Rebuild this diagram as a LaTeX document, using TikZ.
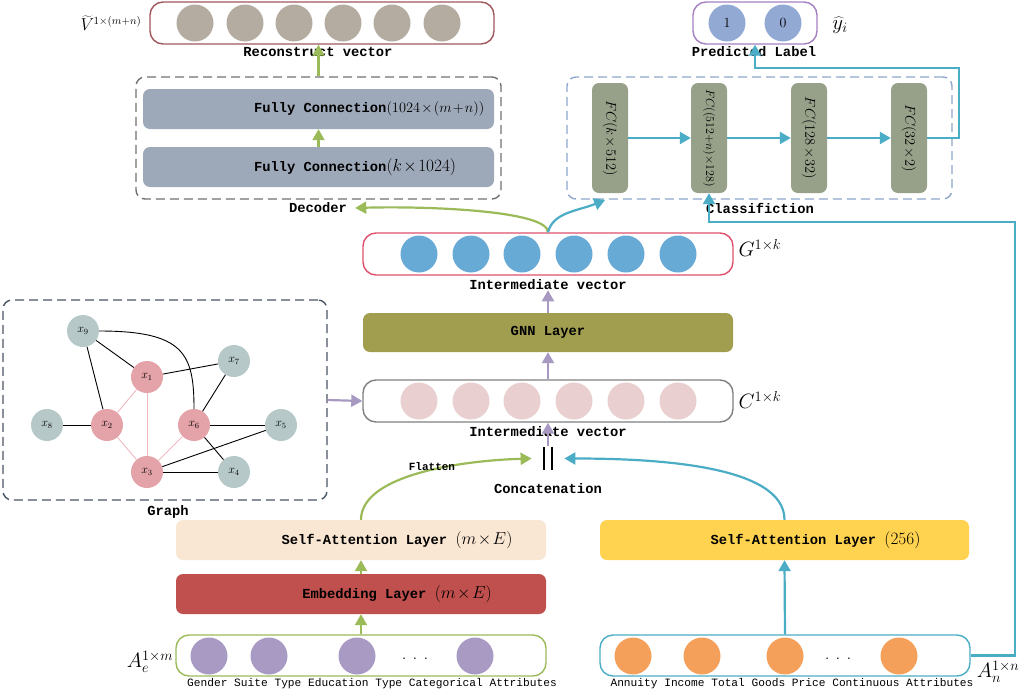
\documentclass[tikz,border=0pt]{standalone}
\usepackage{fontspec}
\setmonofont{Liberation Mono}
\usetikzlibrary{positioning,calc,arrows.meta}

\definecolor{recred}{HTML}{A0575C}
\definecolor{recfill}{HTML}{B5ACA1}
\definecolor{fcblue}{HTML}{9DA8B9}
\definecolor{fcgreen}{HTML}{97A189}
\definecolor{predline}{HTML}{A580C0}
\definecolor{predfill}{HTML}{92A9D3}
\definecolor{gline}{HTML}{E0506E}
\definecolor{gfill}{HTML}{68AAD6}
\definecolor{cfill}{HTML}{E9CFD0}
\definecolor{gnnfill}{HTML}{A29E50}
\definecolor{embfill}{HTML}{C0504D}
\definecolor{salfill}{HTML}{FAE7D3}
\definecolor{sarfill}{HTML}{FFD350}
\definecolor{aefill}{HTML}{A99AC3}
\definecolor{anfill}{HTML}{F5A05A}
\definecolor{catgreen}{HTML}{9BBB59}
\definecolor{numblue}{HTML}{4BACC6}
\definecolor{arrpurple}{HTML}{A899C2}
\definecolor{nodegray}{HTML}{B6C8C8}
\definecolor{nodered}{HTML}{E3A3A8}
\definecolor{edgepink}{HTML}{F0B8C0}
\definecolor{decdash}{HTML}{707070}
\definecolor{clsdash}{HTML}{8FA6CC}
\definecolor{graphdash}{HTML}{4A5562}

\newcommand{\mth}[2][14]{{\fontsize{#1}{#1}\selectfont\medmuskip=1.5mu$#2$}}

\tikzset{
  vecbox/.style={draw, line width=1.4pt, rounded corners=13pt, minimum width=370pt, minimum height=42pt},
  layerbox/.style={rounded corners=7pt, minimum width=370pt, minimum height=40pt},
  dashbox/.style={draw, line width=1.4pt, dash pattern=on 9pt off 5pt, rounded corners=9pt},
  lab/.style={font=\ttfamily\bfseries\fontsize{13.8}{14}\selectfont, inner sep=0pt},
  smalllab/.style={font=\ttfamily\fontsize{11.2}{12}\selectfont, inner sep=0pt},
  bigmath/.style={font=\fontsize{20}{20}\selectfont, inner sep=0pt},
  unit/.style={circle, minimum size=37pt, inner sep=0pt},
  fcbar/.style={fill=fcgreen, rounded corners=7pt, minimum width=36pt, minimum height=110pt, inner sep=0pt},
  gnode/.style={circle, minimum size=32pt, inner sep=0pt, font=\fontsize{12}{12}\selectfont},
  gedge/.style={line width=0.9pt},
  arr/.style={line width=2.2pt, -{Triangle[length=11pt,width=12pt]}},
}

\begin{document}
\begin{tikzpicture}[x=1pt,y=-1pt]
  \useasboundingbox (0,0) rectangle (1021,697);

  % decoder
  \node[vecbox, draw=recred, minimum width=344pt] (rec) at (322,23) {};
  \foreach \x [count=\i] in {195,245,294,343,392,442}
    \node[unit, fill=recfill] (rec-\i) at (\x,23) {};
  \node[lab] (reclab) at (318,52) {Reconstruct vector};
  \node[inner sep=0pt] (vt) at (111,23) {\mth[16]{\widetilde{V}^{\mkern-1mu 1\times(m+n)}}};

  \node[dashbox, draw=decdash, minimum width=365pt, minimum height=122pt] (dec) at (318.5,138) {};
  \node[layerbox, fill=fcblue, minimum width=351pt] (fc1) at (318.5,109) {};
  \node[layerbox, fill=fcblue, minimum width=351pt] (fc2) at (318.5,167) {};
  \node[lab, anchor=west] (fc1txt) at ($(fc1.west)+(111,0)$) {Fully Connection\mth[15]{\bigl(1024\times(m+n)\bigr)}};
  \node[lab, anchor=west] (fc2txt) at ($(fc2.west)+(111,0)$) {Fully Connection\mth[16]{(k\times1024)}};
  \node[lab, inner xsep=8pt] (declab) at (318,208) {Decoder};

  % classification
  \node[vecbox, draw=predline, minimum width=124pt] (pred) at (755,23) {};
  \node[unit, fill=predfill, font=\fontsize{14}{14}\selectfont] (p-1) at (727,23) {1};
  \node[unit, fill=predfill, font=\fontsize{14}{14}\selectfont] (p-0) at (783,23) {0};
  \node[lab] (predlab) at (754,52) {Predicted Label};
  \node[bigmath] (yhat) at (840,25) {$\widehat{y}_i$};

  \node[dashbox, draw=clsdash, minimum width=385pt, minimum height=122pt] (cls) at (759.5,138) {};
  \node[fcbar] (c1) at (610,138) {\rotatebox{-90}{\mth[15]{FC(k\times512)}}};
  \node[fcbar] (c2) at (709,138) {\rotatebox{-90}{\mth[11.5]{FC((512{+}n){\times}128)}}};
  \node[fcbar] (c3) at (809,138) {\rotatebox{-90}{\mth[15]{FC(128\times32)}}};
  \node[fcbar] (c4) at (909,138) {\rotatebox{-90}{\mth[15]{FC(32\times2)}}};
  \node[lab] (clslab) at (760,208) {Classifiction};

  % intermediate vectors
  \node[vecbox, draw=gline] (gv) at (548,254) {};
  \foreach \x [count=\i] in {419,471,522,574,626,678}
    \node[unit, fill=gfill] (g-\i) at (\x,254) {};
  \node[lab] (glab) at (548,285) {Intermediate vector};
  \node[bigmath] (gsym) at (760,248) {$G^{1\times k}$};

  \node[layerbox, fill=gnnfill, minimum height=39pt] (gnn) at (548,332.5) {};
  \node[lab] (gnntxt) at (gnn) {GNN Layer};

  \node[vecbox, draw=gray] (cv) at (548,401) {};
  \foreach \x [count=\i] in {419,471,522,574,626,678}
    \node[unit, fill=cfill] (cc-\i) at (\x,401) {};
  \node[lab] (clab) at (548,432) {Intermediate vector};
  \node[bigmath] (csym) at (760,400) {$C^{1\times k}$};

  \node[inner xsep=11pt, inner ysep=1pt] (cat) at (548,458.5) {\rule{2.2pt}{23pt}\hspace{6pt}\rule{2.2pt}{23pt}};
  \node[lab] (catlab) at (548,489) {Concatenation};

  % graph
  \node[dashbox, draw=graphdash, minimum width=324pt, minimum height=200pt] (graph) at (165,400) {};
  \node[lab] (graphlab) at (168,512) {Graph};
  \node[gnode, fill=nodegray] (x9) at (83,331) {$x_9$};
  \node[gnode, fill=nodered] (x1) at (147,377) {$x_1$};
  \node[gnode, fill=nodegray] (x7) at (234,361) {$x_7$};
  \node[gnode, fill=nodegray] (x8) at (47,425) {$x_8$};
  \node[gnode, fill=nodered] (x2) at (107,425) {$x_2$};
  \node[gnode, fill=nodered] (x6) at (194,425) {$x_6$};
  \node[gnode, fill=nodegray] (x5) at (281,425) {$x_5$};
  \node[gnode, fill=nodered] (x3) at (147,472) {$x_3$};
  \node[gnode, fill=nodegray] (x4) at (234,472) {$x_4$};
  \foreach \a/\b in {x9/x1, x9/x2, x1/x7, x7/x6, x8/x2, x6/x5, x6/x4, x3/x5, x3/x4}
    \draw[gedge] (\a) -- (\b);
  \foreach \a/\b in {x1/x2, x1/x3, x2/x3, x3/x6}
    \draw[gedge, draw=edgepink] (\a) -- (\b);
  \draw[gedge] (x9.east) .. controls +(85,0) and +(0,-55) .. (x6.north);

  % inputs
  \node[layerbox, fill=salfill] (sal) at (361,540) {};
  \node[lab] (saltxt) at ($(sal)+(36,0)$) {Self-Attention Layer \mth[17]{(m\times E)}};
  \node[layerbox, fill=embfill] (emb) at (361,594) {};
  \node[lab] (embtxt) at ($(emb)+(36,0)$) {Embedding Layer \mth[17]{(m\times E)}};
  \node[vecbox, draw=catgreen, minimum height=41pt] (ae) at (361,655.5) {};
  \foreach \x [count=\i] in {209,269,357,475}
    \node[unit, fill=aefill] (ae-\i) at (\x,656) {};
  \node[inner sep=0pt, font=\bfseries] (aedots) at (415,659) {.\ \ .\ \ .};
  \node[smalllab] (aelab) at (372,684) {Gender Suite Type Education Type Categorical Attributes};
  \node[bigmath] (aesym) at (150,662) {$A_e^{1\times m}$};

  \node[layerbox, fill=sarfill, minimum width=369pt] (sar) at (784.5,540) {};
  \node[lab] (sartxt) at ($(sar)+(31,0)$) {Self-Attention Layer \mth[17]{(256)}};
  \node[vecbox, draw=numblue, minimum height=41pt] (an) at (785,655.5) {};
  \foreach \x [count=\i] in {633,702,785,899}
    \node[unit, fill=anfill] (an-\i) at (\x,656) {};
  \node[inner sep=0pt, font=\bfseries] (andots) at (838,659) {.\ \ .\ \ .};
  \node[smalllab] (anlab) at (792,684) {Annuity Income Total Goods Price  Continuous Attributes};
  \node[bigmath] (ansym) at (998,672) {$A_n^{1\times n}$};

  % connectors
  \draw[arr, draw=catgreen] (dec.north) -- (dec.north |- rec.south);
  \draw[arr, draw=catgreen] (fc2.north) -- (fc1.south);
  \draw[arr, draw=catgreen] (gv.north) .. controls +(0,-22) and +(70,-2) .. (declab.east);
  \draw[arr, draw=numblue, shorten >=2pt] (gv.north) .. controls +(5,-20) and +(-30,12) .. ($(c1.south)+(-3,6)$);
  \foreach \a/\b in {c1/c2, c2/c3, c3/c4}
    \draw[arr, draw=numblue] (\a) -- (\b);
  \draw[arr, draw=numblue] (c4.east) -- ++(32,0) |- ($(pred.south)+(0,23)$) -- (pred.south);
  \draw[arr, draw=numblue] (an.east) -- ++(44,0) |- ($(c2.south)+(0,29)$) -- (c2.south);

  \draw[arr, draw=arrpurple] (gnn.north) -- (glab.south);
  \draw[arr, draw=arrpurple] (cv.north) -- (gnn.south);
  \draw[arr, draw=arrpurple] (cat.north) -- (cv.south);
  \draw[arr, draw=arrpurple] (graph.east) -- (cv.west);

  \draw[arr, draw=catgreen] (sal.north) .. controls +(0,-45) and +(-70,2) .. (cat.west);
  \node[font=\ttfamily\bfseries\fontsize{11}{11}\selectfont, inner sep=0pt] (flat) at (432,467) {Flatten};
  \draw[arr, draw=numblue] (sar.north) .. controls +(0,-55) and +(90,0) .. (cat.east);
  \draw[arr, draw=catgreen] (emb.north) -- (sal.south);
  \draw[arr, draw=catgreen] (ae.north) -- (emb.south);
  \draw[arr, draw=numblue] (an.north) -- (sar.south);
\end{tikzpicture}
\end{document}
